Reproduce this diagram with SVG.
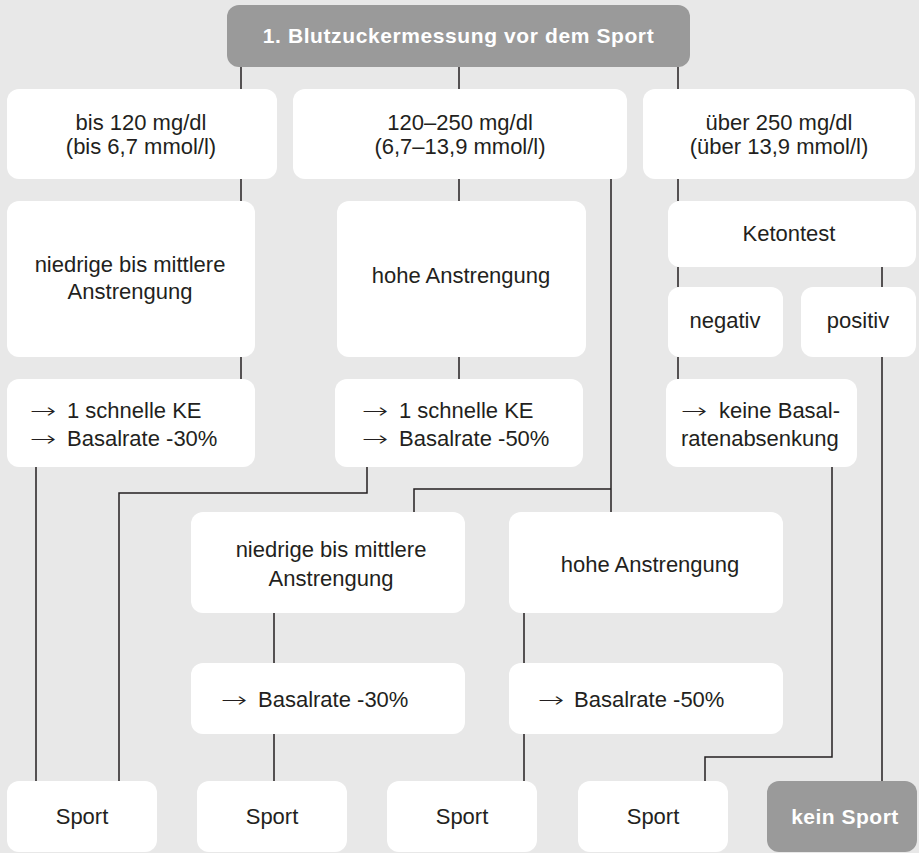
<svg xmlns="http://www.w3.org/2000/svg" width="919" height="853" viewBox="0 0 919 853">
<style>
.bx{fill:#ffffff;}
.gr{fill:#9a9a9a;}
.t{font-family:"Liberation Sans",Arial,sans-serif;font-size:22px;fill:#231f20;}
.c{text-anchor:middle;}
.w{font-family:"Liberation Sans",Arial,sans-serif;font-size:21px;font-weight:bold;fill:#ffffff;text-anchor:middle;}
.a{font-family:"DejaVu Sans",sans-serif;font-size:21px;font-weight:200;fill:#231f20;}
.ln{fill:none;stroke:#231f20;stroke-width:1.5;}
</style>
<rect x="0" y="0" width="919" height="853" fill="#e8e8e8"/>
<g id="connectors" class="ln">
<path d="M241 67V89M459 67V89M678 67V89"/>
<path d="M241 179V201M459 179V201M678 179V201"/>
<path d="M611 179V512M611 489H414V512"/>
<path d="M241 357V379M459 357V379"/>
<path d="M678 267V287M882 267V287M678 357V379"/>
<path d="M36 467V781"/>
<path d="M367 467V493H119V781"/>
<path d="M274 613V663M274 734V781"/>
<path d="M524 613V663M524 734V781"/>
<path d="M832 467V757H705V781"/>
<path d="M882 357V781"/>
</g>
<g id="header"><rect class="gr" x="227" y="5" width="463" height="62" rx="12"/><text class="w" x="458.5" y="43" letter-spacing="0.6">1. Blutzuckermessung vor dem Sport</text></g>
<g id="bis120"><rect class="bx" x="7" y="89" width="270" height="90" rx="12"/><text class="t c" x="141" y="130">bis 120 mg/dl</text><text class="t c" x="141" y="154">(bis 6,7 mmol/l)</text></g>
<g id="mid"><rect class="bx" x="293" y="89" width="334" height="90" rx="12"/><text class="t c" x="460" y="130">120–250 mg/dl</text><text class="t c" x="460" y="154">(6,7–13,9 mmol/l)</text></g>
<g id="ueber250"><rect class="bx" x="643" y="89" width="272" height="90" rx="12"/><text class="t c" x="779" y="130">über 250 mg/dl</text><text class="t c" x="779" y="154">(über 13,9 mmol/l)</text></g>
<g id="niedrig1"><rect class="bx" x="7" y="201" width="248" height="156" rx="12"/><text class="t c" x="130" y="272">niedrige bis mittlere</text><text class="t c" x="130" y="299">Anstrengung</text></g>
<g id="hoch1"><rect class="bx" x="337" y="201" width="249" height="156" rx="12"/><text class="t c" x="461" y="283">hohe Anstrengung</text></g>
<g id="ketontest"><rect class="bx" x="668" y="201" width="248" height="66" rx="12"/><text class="t c" x="789" y="241">Ketontest</text></g>
<g id="negativ"><rect class="bx" x="668" y="287" width="115" height="70" rx="12"/><text class="t c" x="725" y="328">negativ</text></g>
<g id="positiv"><rect class="bx" x="801" y="287" width="115" height="70" rx="12"/><text class="t c" x="858" y="328">positiv</text></g>
<g id="ke30"><rect class="bx" x="7" y="379" width="248" height="88" rx="12"/><text class="a" transform="translate(30 418) scale(1.5 1)">→</text><text class="a" transform="translate(30 446) scale(1.5 1)">→</text><text class="t" x="67" y="418">1 schnelle KE</text><text class="t" x="67" y="446">Basalrate -30%</text></g>
<g id="ke50"><rect class="bx" x="335" y="379" width="248" height="88" rx="12"/><text class="a" transform="translate(362 418) scale(1.5 1)">→</text><text class="a" transform="translate(362 446) scale(1.5 1)">→</text><text class="t" x="399" y="418">1 schnelle KE</text><text class="t" x="399" y="446">Basalrate -50%</text></g>
<g id="keine"><rect class="bx" x="666" y="379" width="191" height="88" rx="12"/><text class="a" transform="translate(681 418) scale(1.5 1)">→</text><text class="t" x="719" y="418">keine Basal-</text><text class="t" x="681" y="446">ratenabsenkung</text></g>
<g id="niedrig2"><rect class="bx" x="191" y="512" width="274" height="101" rx="12"/><text class="t c" x="331" y="557">niedrige bis mittlere</text><text class="t c" x="331" y="586">Anstrengung</text></g>
<g id="hoch2"><rect class="bx" x="509" y="512" width="274" height="101" rx="12"/><text class="t c" x="650" y="572">hohe Anstrengung</text></g>
<g id="basal30"><rect class="bx" x="191" y="663" width="274" height="71" rx="12"/><text class="a" transform="translate(221 707) scale(1.5 1)">→</text><text class="t" x="258" y="707">Basalrate -30%</text></g>
<g id="basal50"><rect class="bx" x="509" y="663" width="274" height="71" rx="12"/><text class="a" transform="translate(538 707) scale(1.5 1)">→</text><text class="t" x="574" y="707">Basalrate -50%</text></g>
<g id="sport1"><rect class="bx" x="7" y="781" width="150" height="71" rx="12"/><text class="t c" x="82" y="824">Sport</text></g>
<g id="sport2"><rect class="bx" x="197" y="781" width="150" height="71" rx="12"/><text class="t c" x="272" y="824">Sport</text></g>
<g id="sport3"><rect class="bx" x="387" y="781" width="150" height="71" rx="12"/><text class="t c" x="462" y="824">Sport</text></g>
<g id="sport4"><rect class="bx" x="578" y="781" width="150" height="71" rx="12"/><text class="t c" x="653" y="824">Sport</text></g>
<g id="keinsport"><rect class="gr" x="767" y="781" width="150" height="71" rx="12"/><text class="w" x="845" y="824" font-size="22" letter-spacing="0.5">kein Sport</text></g>
</svg>
